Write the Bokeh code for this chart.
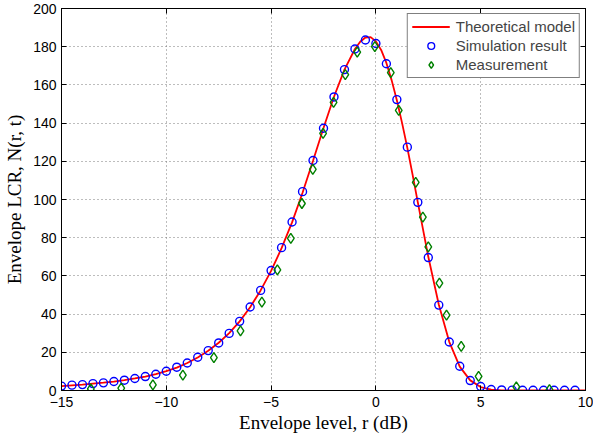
from bokeh.plotting import figure
from bokeh.models import Range1d, LinearAxis, FixedTicker, CustomJSTickFormatter, Legend, LegendItem
from bokeh.embed import file_html
from bokeh.resources import INLINE

# Theoretical model (red line)
theory_x = [-15, -14.5, -14, -13.5, -13, -12.5, -12, -11.5, -11, -10.5, -10, -9.5, -9, -8.5, -8,
            -7.5, -7, -6.5, -6, -5.5, -5, -4.5, -4, -3.5, -3, -2.5, -2, -1.5, -1, -0.75, -0.5,
            -0.25, 0, 0.25, 0.5, 0.75, 1, 1.25, 1.5, 1.75, 2, 2.5, 3, 3.5, 4, 4.5, 5, 5.5, 6, 7,
            8, 9, 10]
theory_y = [2.3, 2.7, 3.1, 3.6, 4.1, 4.7, 5.4, 6.3, 7.3, 8.6, 10.1, 12.0, 14.4, 17.3, 20.8,
            25.0, 30.0, 36.2, 43.6, 52.4, 62.6, 74.5, 88.0, 103.5, 120.3, 137.4, 153.8, 168.0,
            178.8, 182.6, 184.8, 185.0, 182.8, 178.3, 171.5, 162.5, 152.0, 140.0, 127.0, 113.0,
            98.5, 70.0, 45.0, 25.5, 12.5, 5.3, 1.8, 0.5, 0.1, 0.0, 0.0, 0.0, 0.0]

# Simulation result (blue circles)
sim_x = [-15, -14.5, -14, -13.5, -13, -12.5, -12, -11.5, -11, -10.5, -10, -9.5, -9, -8.5, -8,
         -7.5, -7, -6.5, -6, -5.5, -5, -4.5, -4, -3.5, -3, -2.5, -2, -1.5, -1, -0.5, 0, 0.5,
         1, 1.5, 2, 2.5, 3, 3.5, 4, 4.5, 5, 5.5, 6, 6.5, 7, 7.5, 8, 8.5, 9, 9.5]
sim_y = [2.3, 2.8, 3.1, 3.6, 4.0, 4.7, 5.4, 6.3, 7.3, 8.5, 10.1, 12.2, 14.4, 17.4, 20.9,
         24.9, 29.9, 36.2, 43.7, 52.4, 62.8, 74.8, 88.2, 104.1, 120.4, 137.3, 153.7, 168.0,
         178.8, 183.5, 181.7, 171.1, 152.3, 127.4, 98.5, 69.6, 44.7, 25.4, 12.7, 5.2, 2.1,
         0.5, 0.3, 0.2, 0.1, 0.1, 0.1, 0.1, 0.1, 0.1]

# Measurement (green diamonds)
meas_x = [-13.6, -12.15, -10.64, -9.21, -7.73, -6.46, -5.44, -4.7, -4.06, -3.53, -3.01, -2.52,
          -2.02, -1.46, -0.89, -0.05, 0.71, 1.09, 1.9, 2.24, 2.5, 3.03, 3.37, 4.07, 4.9, 6.7,
          8.28]
meas_y = [0.8, 1.2, 3.0, 8.0, 17.2, 31.2, 46.3, 63.1, 79.7, 97.9, 115.8, 134.6, 150.9, 165.4,
          177.2, 180.0, 166.4, 146.7, 109.0, 90.8, 75.2, 56.2, 39.5, 23.1, 7.4, 1.9, 0.5]

x_ticks = [-15, -10, -5, 0, 5, 10]
y_ticks = [0, 20, 40, 60, 80, 100, 120, 140, 160, 180, 200]
x_tick_labels = {-15: "\u221215", -10: "\u221210", -5: "\u22125", 0: "0", 5: "5", 10: "10"}

p = figure(width=593, height=438, output_backend="svg", toolbar_location=None,
           x_range=Range1d(-15, 10), y_range=Range1d(0, 200),
           min_border_left=61, min_border_right=8, min_border_top=8, min_border_bottom=48)
p.background_fill_color = "white"
p.border_fill_color = "white"
p.outline_line_color = "black"
p.outline_line_width = 1

bottom = p.xaxis[0]
left = p.yaxis[0]

# grid
p.xgrid.ticker = FixedTicker(ticks=x_ticks)
p.ygrid.ticker = FixedTicker(ticks=y_ticks)
for g in (p.xgrid, p.ygrid):
    g.grid_line_color = "#7a7a7a"
    g.grid_line_dash = "1 3"
    g.grid_line_width = 1

# axes
bottom.ticker = FixedTicker(ticks=x_ticks)
left.ticker = FixedTicker(ticks=y_ticks)
bottom.major_label_overrides = x_tick_labels
bottom.axis_label = "Envelope level, r (dB)"
left.axis_label = "Envelope LCR, N(r, t)"

blank = CustomJSTickFormatter(code="return ''")
top = LinearAxis(ticker=FixedTicker(ticks=x_ticks), formatter=blank)
right = LinearAxis(ticker=FixedTicker(ticks=y_ticks), formatter=blank)
p.add_layout(top, "above")
p.add_layout(right, "right")

for ax in (bottom, left, top, right):
    ax.axis_line_color = "black"
    ax.axis_line_width = 1
    ax.major_tick_in = 5
    ax.major_tick_out = 0
    ax.major_tick_line_color = "black"
    ax.minor_tick_line_color = None
    ax.major_label_text_font = "Liberation Sans"
    ax.major_label_text_font_size = "14px"
    ax.major_label_text_color = "black"
    ax.axis_label_text_font = "Liberation Serif"
    ax.axis_label_text_font_style = "normal"
    ax.axis_label_text_font_size = "19px"
    ax.axis_label_text_color = "black"
for ax in (top, right):
    ax.major_label_standoff = 0
    ax.major_label_text_font_size = "1px"

bottom.major_label_standoff = 6
left.major_label_standoff = 5
bottom.axis_label_standoff = 2
left.axis_label_standoff = 5

r_line = p.line(theory_x, theory_y, line_color="#ff0000", line_width=1.8)
r_sim = p.scatter(sim_x, sim_y, marker="circle", size=8, fill_color=None,
                  line_color="#0000ff", line_width=1.4)
r_meas = p.scatter(meas_x, meas_y, marker="diamond", size=10, fill_color=None,
                   line_color="#008000", line_width=1.4)

legend = Legend(items=[
    LegendItem(label="Theoretical model", renderers=[r_line]),
    LegendItem(label="Simulation result", renderers=[r_sim]),
    LegendItem(label="Measurement", renderers=[r_meas]),
], location="top_right")
legend.border_line_color = "black"
legend.border_line_width = 1
legend.background_fill_color = "white"
legend.background_fill_alpha = 1
legend.label_text_font = "Liberation Sans"
legend.label_text_font_size = "15px"
legend.label_height = 17
legend.glyph_height = 17
legend.glyph_width = 38
legend.spacing = 2
legend.padding = 4
legend.margin = 5
legend.label_standoff = 6
p.add_layout(legend, "center")

open("out.html", "w").write(file_html(p, INLINE))
